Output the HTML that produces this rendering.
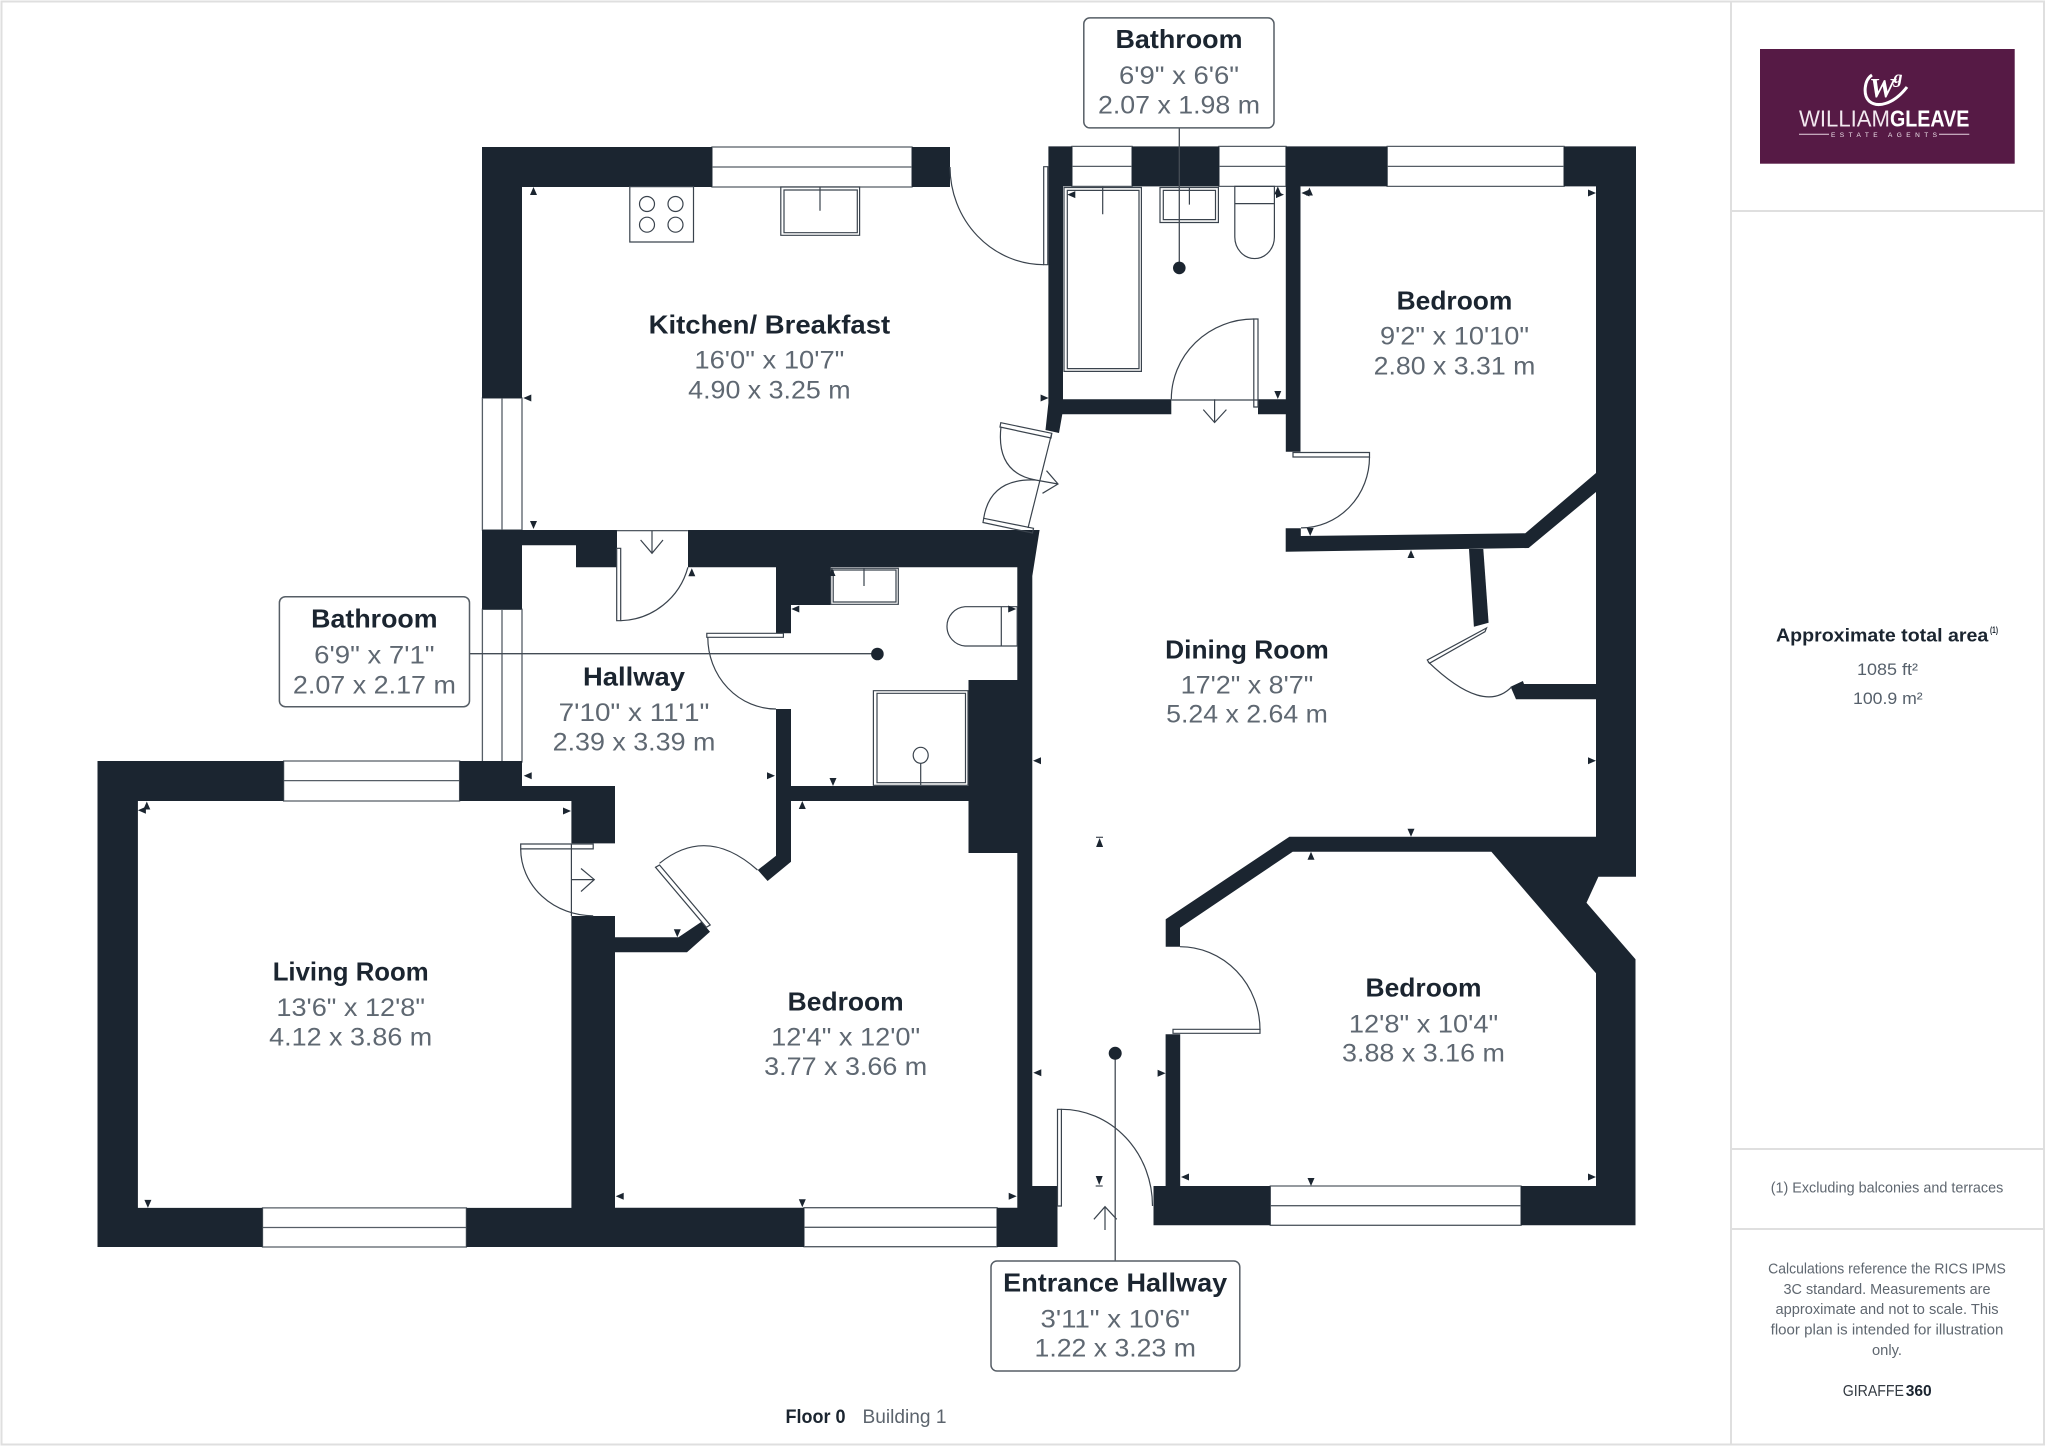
<!DOCTYPE html>
<html><head><meta charset="utf-8"><style>
html,body{margin:0;padding:0;background:#fff}
svg{display:block}
text{font-family:"Liberation Sans",sans-serif}
.t{font-size:26px;font-weight:bold;fill:#1b2530;text-anchor:middle}
.d{font-size:25px;fill:#5f6872;text-anchor:middle}
.w{fill:#1b2530}
.l{fill:none;stroke:#3a434d;stroke-width:1.2}
.win{fill:#fff;stroke:#565e66;stroke-width:1.3}
.f{fill:#fff;stroke:#3a434d;stroke-width:1.2}
.b{fill:#fff;stroke:#565e66;stroke-width:1.5}
.s{font-size:14.5px;fill:#5f6770;text-anchor:middle}
</style></head><body>
<svg width="2048" height="1446" viewBox="0 0 2048 1446" xmlns="http://www.w3.org/2000/svg">
<rect width="2048" height="1446" fill="#fff"/>
<g fill="none" stroke="#dfdfdf" stroke-width="2">
<rect x="1.5" y="1.5" width="2042.5" height="1443"/>
<path d="M1731,1.5V1444.5M1731,211H2044M1731,1149H2044M1731,1229H2044"/>
</g>

<!-- windows -->
<g class="win">
<path d="M712,147H912V187H712ZM712,167H912"/>
<path d="M482.4,398H522V530H482.4ZM502,398V530"/>
<path d="M482.4,609.3H522V762H482.4ZM502,609.3V762"/>
<path d="M283.6,761H459.6V801H283.6ZM283.6,780.6H459.6"/>
<path d="M262.5,1207.9H466.4V1247H262.5ZM262.5,1227.5H466.4"/>
<path d="M804,1207.7H997V1246.7H804ZM804,1227.3H997"/>
<path d="M1270.3,1186H1521V1225.3H1270.3ZM1270.3,1205.7H1521"/>
<path d="M1072,146.4H1132V186.4H1072ZM1072,166.4H1132"/>
<path d="M1219,146.4H1286V186.4H1219ZM1219,166.4H1286"/>
<path d="M1387.2,146.4H1564V186.4H1387.2ZM1387.2,166.4H1564"/>
</g>

<!-- walls -->
<g class="w">
<path d="M482,147H712V187H522V398H482Z"/>
<path d="M912,147H950V187H912Z"/>
<path d="M482,530H617V567.3H576V545.3H522V609.3H482Z"/>
<path d="M688,530H1039.6L1032.3,576V1186H1057.5V1247H997V1207.7H1017.3V567.3H688Z"/>
<rect x="968.5" y="680" width="49" height="173"/>
<path d="M776,567H830.7V605H791V633.3H776Z"/>
<path d="M776,709H791V861.7L767.6,881L757.8,870L776,855.7Z"/>
<rect x="790" y="786" width="179" height="15"/>
<path d="M97.5,761H283.6V801H137.9V1207.9H262.5V1247H97.5Z"/>
<path d="M459.6,761H522V786H615V843.4H571.4V801H459.6Z"/>
<path d="M571.4,916H615V937.3H678.5L701.5,921.7L710,931.7L687,952.3H615V1207.7H804V1247H466.4V1207.9H571.4Z"/>
<path d="M1048.4,146.4H1072V186.4H1063V399.3H1171.3V414.3H1062.3L1059,433L1045.5,430L1048.4,403Z"/>
<rect x="1132" y="146.4" width="87" height="40"/>
<path d="M1258,399.3H1285.8V146.4H1387.2V186.4H1300.5V451.8H1285.8V414.3H1258Z"/>
<path d="M1564,146.4H1636V876.7H1598.4L1586.5,902.7L1635.5,959.3V1225.3H1521V1186H1596V973.3L1491.4,851.7H1292.7L1180,927.7V946.7H1165.7V919.3L1289.4,836.7H1596V186.4H1564Z"/>
<path d="M1285.7,528.3H1300.8V536L1525.3,533.3L1596,473V492L1528.6,548L1285.7,551.7Z"/>
<path d="M1469,549L1473.9,626.7L1488.6,622.7L1483.3,549Z"/>
<path d="M1510.6,686.7L1522.9,681L1524,684H1596V699.3H1516Z"/>
<path d="M1153.5,1186H1165.6V1034.3H1180.2V1186H1270.3V1225.3H1153.5Z"/>
</g>

<!-- fixtures -->
<path class="f" d="M629.8,186.7H693.5V242H629.8Z"/>
<g class="l"><circle cx="647" cy="204" r="7.5"/><circle cx="675.5" cy="204" r="7.5"/><circle cx="647" cy="224.7" r="7.5"/><circle cx="675.5" cy="224.7" r="7.5"/></g>
<path class="f" d="M780.8,187H859.6V235.3H780.8Z"/><path class="l" d="M784,190H857.3V232.7H784ZM820,187V210.7"/>
<path class="f" d="M1064,187.5H1141.4V371.4H1064Z"/><path class="l" d="M1067.3,190.4H1139V368.6H1067.3ZM1102.7,186.4V214.3"/>
<path class="f" d="M1160,187.5H1218.4V222.5H1160Z"/><path class="l" d="M1163.3,190.4H1215.5V219.6H1163.3ZM1189.4,187.5V204.6"/>
<path class="f" d="M1234.8,186.4V237A19.8,21.6 0 0 0 1274.4,237V186.4Z"/><path class="l" d="M1234.8,203.6H1274.4"/>
<path class="f" d="M830.7,568.3H898.3V604.3H830.7Z"/><path class="l" d="M833.2,570H896V602H833.2ZM864,568.3V586"/>
<path class="f" d="M1017.2,606.7H965A19.4,19.7 0 0 0 965,646H1017.2Z"/><path class="l" d="M1001.3,606.7V646"/>
<path class="f" d="M873.4,690.7H968V785.3H873.4Z"/><path class="l" d="M877,693.3H965.5V782.7H877Z"/>
<ellipse class="l" cx="920.7" cy="755.3" rx="7.5" ry="8"/><path class="l" d="M920.7,763V785.3"/>

<!-- doors -->
<g class="l">
<path d="M950,167A94,98 0 0 0 1043.7,264.7"/><path d="M1043.7,166.7H1047.8V264.7H1043.7Z"/>
<path d="M1000.8,422.7L1051.8,433.3L1051,438L1000,427Z"/>
<path d="M1001,426.7Q995.7,472.7 1035.5,480"/>
<path d="M983.7,518.3L1033.5,528.3L1032.5,533L983,522.5Z"/>
<path d="M983.7,518.3Q990,478 1035.5,480"/>
<path d="M1051.8,433L1028,528"/>
<path d="M1035.5,480L1058,484M1046.5,470.7L1058,484L1042.5,493.3"/>
<path d="M1253.8,319A82.5,80.3 0 0 0 1171.3,399.3"/><path d="M1253.8,319H1258V407H1253.8ZM1171.3,400H1258"/>
<path d="M1214.6,399.3V422.5M1203.3,409.6L1214.6,422.5L1226.4,409.6"/>
<path d="M1293,452.5H1369.5V457H1293Z"/><path d="M1369.5,457A68.5,71 0 0 1 1301,527.9"/>
<path d="M1486.5,628L1427.3,660L1429.4,663.3L1485,631.7Z"/>
<path d="M1428,661.7Q1484.1,715.8 1511.8,686.7"/>
<path d="M1173,1029.3H1260V1033.3H1173Z"/><path d="M1180,946.7A80,83.3 0 0 1 1260,1030"/>
<path d="M1057.5,1109.3H1061.4V1206H1057.5Z"/><path d="M1061.4,1109.3A91,96.7 0 0 1 1152.5,1206"/>
<path d="M1105,1206.7V1230M1093.9,1219.3L1105,1206.7L1116.7,1219.3"/>
<path d="M616.7,530.7H687.9"/>
<path d="M616.7,548.3H620.7V620.7H616.7Z"/><path d="M620.7,620.7A72,72 0 0 0 687.9,567.3"/>
<path d="M652,530.7V553.3M640.6,540L652,553.3L663,540"/>
<path d="M706.8,633.3H783.4V637.3H706.8Z"/><path d="M707.8,637.3A68.2,71.7 0 0 0 776,709"/>
<path d="M520.7,844H593.2V848.9H520.7Z"/><path d="M520.7,848.9A72.5,67 0 0 0 593.2,915.8"/>
<path d="M571.4,844V916"/><path d="M571.4,879.6H594.3M581,868.5L594.3,879.6L581,891.5"/>
<path d="M655.5,867.3L659.5,865L710.2,925L706.3,927.3Z"/>
<path d="M659.5,863.3Q707,825 757.5,870"/>
</g>

<!-- dimension ticks -->
<path class="w" d="M533.5,187l-3.5,8h7zM691.8,568.3l-3.5,8h7zM832,568l-3.5,8h7zM802.3,801l-3.5,8h7zM146.8,801.5l-3.5,8h7zM1411,550l-3.5,8h7zM1311,851.7l-3.5,8h7zM1277.8,186.4l-3.5,8h7zM1309.4,187.5l-3.5,8h7z"/>
<path class="w" d="M533.5,529l-3.5,-8h7zM833,786l-3.5,-8h7zM802.3,1207.3l-3.5,-8h7zM677.3,937.3l-3.5,-8h7zM147.9,1207.9l-3.5,-8h7zM1411,836.7l-3.5,-8h7zM1310.2,536l-3.5,-8h7zM1311,1186l-3.5,-8h7zM1277.8,399l-3.5,-8h7z"/>
<path class="w" d="M523.3,398l8,-3.5v7zM523.7,775.7l8,-3.5v7zM791.3,609l8,-3.5v7zM615.7,1196.3l8,-3.5v7zM1033.3,1072.7l8,-3.5v7zM137.9,810.3l8,-3.5v7zM1033,760.7l8,-3.5v7zM1181,1177l8,-3.5v7zM1067.3,194.6l8,-3.5v7zM1301.4,193l8,-3.5v7z"/>
<path class="w" d="M1048.6,398l-8,-3.5v7zM775,775.7l-8,-3.5v7zM1016.2,609l-8,-3.5v7zM1016.7,1196.3l-8,-3.5v7zM571,811l-8,-3.5v7zM1596,760.7l-8,-3.5v7zM1165.6,1073.3l-8,-3.5v7zM1596,1177l-8,-3.5v7zM1284,194.6l-8,-3.5v7zM1596,193l-8,-3.5v7z"/>
<path class="w" d="M1099.6,838l-3.5,9h7zM1096,836.7h7v1h-7zM1099.2,1185l-3.5,-9h7zM1095.7,1185.5h7v1h-7z"/>

<!-- leaders and bubbles -->
<g stroke="#444c55" stroke-width="1.3" fill="none"><path d="M1179.3,127.9V267.9M469.5,653.7H877.4M1115.2,1053.3V1261"/></g>
<circle class="w" cx="1179.3" cy="267.9" r="6.3"/><circle class="w" cx="877.4" cy="654" r="6.3"/><circle class="w" cx="1115.2" cy="1053.3" r="6.5"/>
<rect class="b" x="1083.8" y="17.9" width="190.2" height="110" rx="6"/>
<rect class="b" x="279.4" y="596.7" width="190.1" height="110" rx="6"/>
<rect class="b" x="991" y="1261" width="248.8" height="110" rx="6"/>

<!-- labels -->
<g>
<text class="t" x="769.4" y="333.3" textLength="241.6" lengthAdjust="spacingAndGlyphs">Kitchen/ Breakfast</text>
<text class="d" x="769.4" y="368.3" textLength="150" lengthAdjust="spacingAndGlyphs">16'0" x 10'7"</text>
<text class="d" x="769.4" y="398.3" textLength="162.4" lengthAdjust="spacingAndGlyphs">4.90 x 3.25 m</text>

<text class="t" x="1179" y="48.2" textLength="127" lengthAdjust="spacingAndGlyphs">Bathroom</text>
<text class="d" x="1179" y="84" textLength="120" lengthAdjust="spacingAndGlyphs">6'9" x 6'6"</text>
<text class="d" x="1179" y="113.6" textLength="162" lengthAdjust="spacingAndGlyphs">2.07 x 1.98 m</text>

<text class="t" x="1454.5" y="309.6" textLength="115.7" lengthAdjust="spacingAndGlyphs">Bedroom</text>
<text class="d" x="1454.5" y="344.6" textLength="149" lengthAdjust="spacingAndGlyphs">9'2" x 10'10"</text>
<text class="d" x="1454.5" y="374.3" textLength="161.6" lengthAdjust="spacingAndGlyphs">2.80 x 3.31 m</text>

<text class="t" x="634" y="685.7" textLength="102" lengthAdjust="spacingAndGlyphs">Hallway</text>
<text class="d" x="634" y="721" textLength="150.7" lengthAdjust="spacingAndGlyphs">7'10" x 11'1"</text>
<text class="d" x="634" y="750.7" textLength="162.7" lengthAdjust="spacingAndGlyphs">2.39 x 3.39 m</text>

<text class="t" x="374.4" y="627.7" textLength="126.4" lengthAdjust="spacingAndGlyphs">Bathroom</text>
<text class="d" x="374.4" y="663.3" textLength="120.4" lengthAdjust="spacingAndGlyphs">6'9" x 7'1"</text>
<text class="d" x="374.4" y="693.3" textLength="163" lengthAdjust="spacingAndGlyphs">2.07 x 2.17 m</text>

<text class="t" x="350.7" y="980.7" textLength="156" lengthAdjust="spacingAndGlyphs">Living Room</text>
<text class="d" x="350.7" y="1016.2" textLength="148.6" lengthAdjust="spacingAndGlyphs">13'6" x 12'8"</text>
<text class="d" x="350.7" y="1045.3" textLength="163" lengthAdjust="spacingAndGlyphs">4.12 x 3.86 m</text>

<text class="t" x="845.7" y="1010.7" textLength="116" lengthAdjust="spacingAndGlyphs">Bedroom</text>
<text class="d" x="845.7" y="1045.7" textLength="149" lengthAdjust="spacingAndGlyphs">12'4" x 12'0"</text>
<text class="d" x="845.7" y="1075" textLength="163" lengthAdjust="spacingAndGlyphs">3.77 x 3.66 m</text>

<text class="t" x="1247" y="658.3" textLength="163.7" lengthAdjust="spacingAndGlyphs">Dining Room</text>
<text class="d" x="1247" y="693.3" textLength="132.7" lengthAdjust="spacingAndGlyphs">17'2" x 8'7"</text>
<text class="d" x="1247" y="722.7" textLength="161.6" lengthAdjust="spacingAndGlyphs">5.24 x 2.64 m</text>

<text class="t" x="1423.5" y="996.7" textLength="116" lengthAdjust="spacingAndGlyphs">Bedroom</text>
<text class="d" x="1423.5" y="1032.3" textLength="149.3" lengthAdjust="spacingAndGlyphs">12'8" x 10'4"</text>
<text class="d" x="1423.5" y="1061.7" textLength="162.9" lengthAdjust="spacingAndGlyphs">3.88 x 3.16 m</text>

<text class="t" x="1115.2" y="1291.7" textLength="224" lengthAdjust="spacingAndGlyphs">Entrance Hallway</text>
<text class="d" x="1115.2" y="1327.7" textLength="149.3" lengthAdjust="spacingAndGlyphs">3'11" x 10'6"</text>
<text class="d" x="1115.2" y="1356.7" textLength="161.4" lengthAdjust="spacingAndGlyphs">1.22 x 3.23 m</text>
</g>

<text x="785.5" y="1423" font-size="19" font-weight="bold" fill="#1b2530" textLength="60" lengthAdjust="spacingAndGlyphs">Floor 0</text>
<text x="862.5" y="1423" font-size="19" fill="#5c646d" textLength="84" lengthAdjust="spacingAndGlyphs">Building 1</text>

<!-- logo -->
<rect x="1760" y="49" width="254.7" height="114.7" fill="#561a45"/>
<text x="1882" y="97" font-size="27" font-style="italic" font-weight="bold" fill="#fff" style="font-family:'Liberation Serif',serif" text-anchor="middle" textLength="26" lengthAdjust="spacingAndGlyphs">W</text>
<text x="1898" y="83" font-size="18" font-style="italic" font-weight="bold" fill="#fff" style="font-family:'Liberation Serif',serif" text-anchor="middle">g</text>
<path d="M1872,75C1864,80 1863,95 1869,101C1877,108 1893,105 1907,87" fill="none" stroke="#fff" stroke-width="3"/>
<text x="1799" y="126.7" font-size="23" fill="#f2e8ef" textLength="91" lengthAdjust="spacingAndGlyphs">WILLIAM</text>
<text x="1890" y="126.7" font-size="23" font-weight="bold" fill="#fff" textLength="79.3" lengthAdjust="spacingAndGlyphs">GLEAVE</text>
<path d="M1799,134.3H1829M1939,134.3H1969.3" stroke="#e5d4e0" stroke-width="1"/>
<text x="1884" y="137" font-size="6.5" fill="#f2e8ef" text-anchor="middle" textLength="106" lengthAdjust="spacing">ESTATE AGENTS</text>

<!-- side text -->
<text x="1776" y="641.7" font-size="18" font-weight="bold" fill="#1b2530" textLength="212.3" lengthAdjust="spacingAndGlyphs">Approximate total area</text>
<text x="1990" y="633" font-size="9" font-weight="bold" fill="#1b2530" textLength="8" lengthAdjust="spacingAndGlyphs">(1)</text>
<text x="1857" y="675" font-size="16.5" fill="#56606b" textLength="61" lengthAdjust="spacingAndGlyphs">1085 ft²</text>
<text x="1853" y="704" font-size="16.5" fill="#56606b" textLength="69.7" lengthAdjust="spacingAndGlyphs">100.9 m²</text>
<text class="s" x="1887" y="1192.7" textLength="232.6" lengthAdjust="spacingAndGlyphs">(1) Excluding balconies and terraces</text>
<text class="s" x="1887" y="1273.3" textLength="237.7" lengthAdjust="spacingAndGlyphs">Calculations reference the RICS IPMS</text>
<text class="s" x="1887" y="1294" textLength="207" lengthAdjust="spacingAndGlyphs">3C standard. Measurements are</text>
<text class="s" x="1887" y="1314" textLength="223" lengthAdjust="spacingAndGlyphs">approximate and not to scale. This</text>
<text class="s" x="1887" y="1334.3" textLength="232.7" lengthAdjust="spacingAndGlyphs">floor plan is intended for illustration</text>
<text class="s" x="1887" y="1355" textLength="30" lengthAdjust="spacingAndGlyphs">only.</text>
<text x="1842.7" y="1396" font-size="16" fill="#333a42" textLength="61.3" lengthAdjust="spacingAndGlyphs">GIRAFFE</text>
<text x="1905.7" y="1396" font-size="16" font-weight="bold" fill="#1b2530" textLength="26" lengthAdjust="spacingAndGlyphs">360</text>
</svg>
</body></html>
